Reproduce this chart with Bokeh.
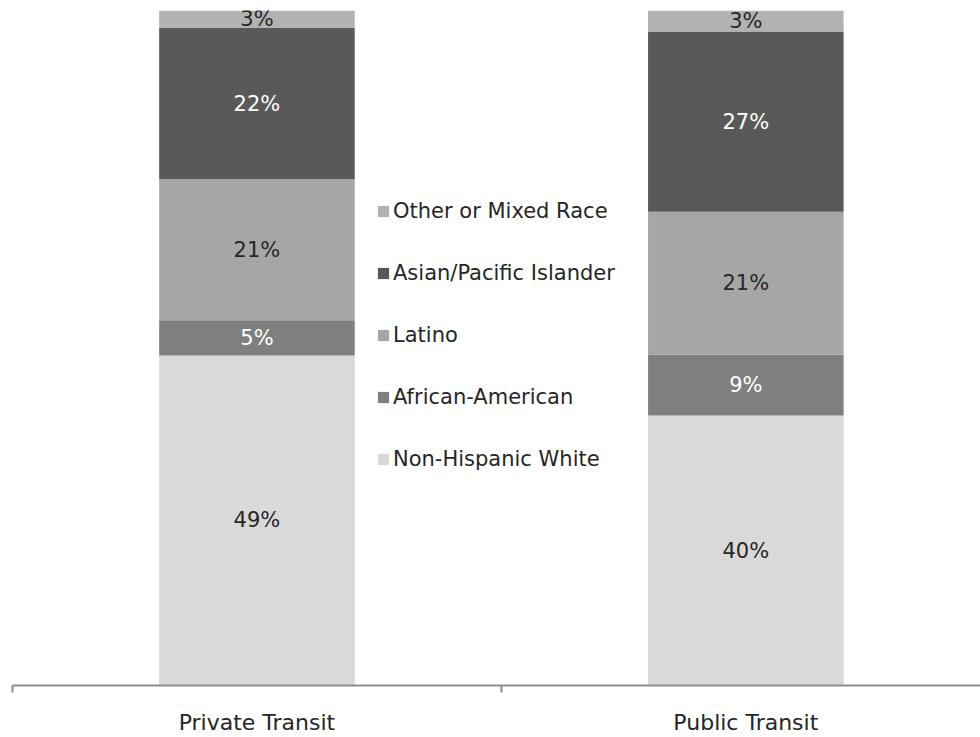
from bokeh.plotting import figure
from bokeh.models import Range1d, FixedTicker, Legend, LegendItem, ColumnDataSource
from bokeh.core.properties import value
from bokeh.embed import file_html
from bokeh.resources import INLINE

categories = ["Private Transit", "Public Transit"]
groups = ["Non-Hispanic White", "African-American", "Latino",
          "Asian/Pacific Islander", "Other or Mixed Race"]
non_hispanic_white = [48.9, 40.0]
african_american = [5.2, 9.0]
latino = [20.9, 21.2]
asian_pacific_islander = [22.4, 26.7]
other_or_mixed = [2.6, 3.1]

series = [non_hispanic_white, african_american, latino,
          asian_pacific_islander, other_or_mixed]
keys = ["white", "aa", "latino", "asian", "other"]
colors = ["#D9D9D9", "#7F7F7F", "#A6A6A6", "#595959", "#B2B2B2"]
label_colors = ["#262626", "#FFFFFF", "#262626", "#FFFFFF", "#262626"]

FONT = "DejaVu Sans"

xs = [i + 0.5 for i in range(len(categories))]
data = {"x": xs}
for k, s in zip(keys, series):
    data[k] = s
src = ColumnDataSource(data)

p = figure(width=980, height=737, output_backend="svg", toolbar_location=None,
           x_range=Range1d(0, 1.98), y_range=Range1d(0, 100),
           y_axis_location=None, min_border_left=12, min_border_right=0,
           min_border_top=10, min_border_bottom=51)
p.xgrid.visible = False
p.ygrid.visible = False
p.outline_line_color = None

renderers = p.vbar_stack(keys, x="x", width=0.4, color=colors, line_color=None,
                         source=src)

# value labels
bottoms = [0.0] * len(categories)
for s, lc in zip(series, label_colors):
    mids = [b + v / 2 for b, v in zip(bottoms, s)]
    texts = [f"{round(v)}%" for v in s]
    p.text(x=xs, y=mids, text=texts, text_align="center", text_baseline="middle",
           text_color=lc, text_font=value(FONT), text_font_size="21px")
    bottoms = [b + v for b, v in zip(bottoms, s)]

# axis
ax = p.xaxis[0]
ax.ticker = FixedTicker(ticks=xs, minor_ticks=[0, 1, 2])
ax.major_label_overrides = {x: c for x, c in zip(xs, categories)}
ax.axis_line_width = 2
ax.axis_line_color = "#8C8C8C"
ax.major_tick_out = 0
ax.major_tick_in = 0
ax.minor_tick_out = 7
ax.minor_tick_in = 0
ax.minor_tick_line_width = 2
ax.minor_tick_line_color = "#8C8C8C"
ax.major_label_standoff = 17
ax.major_label_text_font = FONT
ax.major_label_text_font_size = "22px"
ax.major_label_text_color = "#262626"

items = [LegendItem(label=g, renderers=[r]) for g, r in zip(groups, renderers)]
legend = Legend(items=list(reversed(items)), location=(364, 213),
                border_line_color=None, background_fill_alpha=0, padding=0, margin=0,
                glyph_width=14, glyph_height=14, label_height=26, spacing=36,
                label_standoff=3, label_text_font=FONT, label_text_font_size="21px",
                label_text_color="#262626")
p.add_layout(legend, "center")

open("out.html", "w").write(file_html(p, INLINE))
